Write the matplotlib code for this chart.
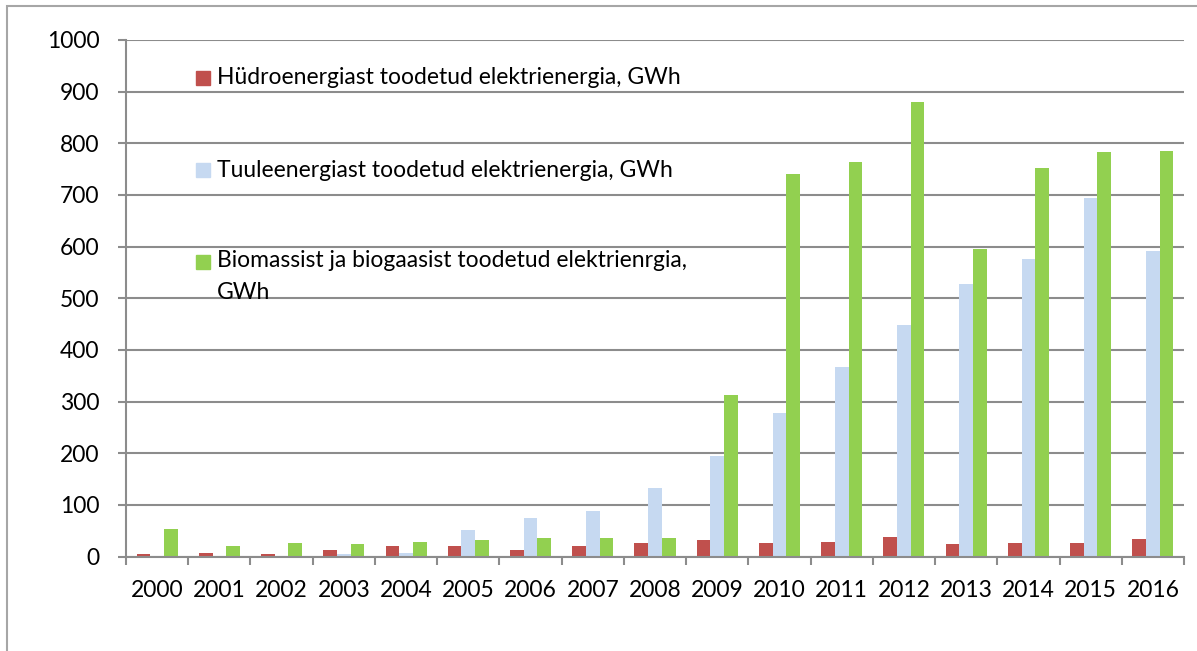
"""Renewable electricity production in Estonia, 2000-2016 (GWh)."""
import matplotlib

matplotlib.use("Agg")
import matplotlib.pyplot as plt
import numpy as np
from matplotlib.patches import Rectangle

years = [str(y) for y in range(2000, 2017)]
hydro = [4, 6, 4, 12, 21, 20, 12, 20, 27, 31, 26, 29, 37, 25, 26, 26, 33]
wind = [0, 0, 0, 5, 6, 52, 75, 89, 133, 194, 277, 367, 448, 528, 576, 694, 592]
biomass = [54, 20, 26, 25, 29, 31, 36, 35, 36, 313, 741, 763, 880, 596, 752, 783, 785]

labels = [
    "Hüdroenergiast toodetud elektrienergia, GWh",
    "Tuuleenergiast toodetud elektrienergia, GWh",
    "Biomassist ja biogaasist toodetud elektrienrgia,\nGWh",
]
colors = ["#C0504D", "#C6D9F1", "#92D050"]

plt.rcParams["font.family"] = ["Lato", "DejaVu Sans"]
fs = 16.5

W, H = 1197, 651
fig = plt.figure(figsize=(W / 100, H / 100), dpi=100)
ax = fig.add_axes([126 / W, 1 - 556.5 / H, (1184 - 126) / W, (556.5 - 40) / H])

grid_c = "#8C8C8C"
x = np.arange(len(years))
bw = 0.22
for off, vals, c in zip([-bw, 0, bw], [hydro, wind, biomass], colors):
    ax.bar(x + off, vals, width=bw, color=c, linewidth=0, zorder=3)

ax.set_xlim(-0.5, len(years) - 0.5)
ax.set_ylim(0, 1000)
ax.set_yticks(range(0, 1001, 100))
ax.yaxis.grid(True, color=grid_c, linewidth=1.5, zorder=0)
ax.tick_params(axis="y", length=6, width=1.5, color=grid_c, pad=13, labelsize=fs)

ax.set_xticks(np.arange(-0.5, len(years), 1.0))
ax.set_xticklabels([])
ax.set_xticks(x, minor=True)
ax.set_xticklabels(years, minor=True)
ax.tick_params(axis="x", which="major", length=6, width=1.5, color=grid_c)
ax.tick_params(axis="x", which="minor", length=0, pad=17, labelsize=fs)

for side in ["top", "right"]:
    ax.spines[side].set_visible(False)
for side in ["left", "bottom"]:
    ax.spines[side].set_color(grid_c)
    ax.spines[side].set_linewidth(1.5)
    ax.spines[side].set_zorder(4)

# legend drawn by hand: Excel puts the marker on the first text line
legend_y = [78, 170, 262]
for lab, c, ly in zip(labels, colors, legend_y):
    fig.patches.append(Rectangle((196 / W, 1 - (ly + 7) / H), 14 / W, 14 / H,
                                 transform=fig.transFigure, color=c, zorder=5))
    two_lines = "\n" in lab
    fig.text(217 / W, 1 - (ly - 12 if two_lines else ly) / H, lab, ha="left",
             va="top" if two_lines else "center",
             fontsize=fs, linespacing=1.65, zorder=5,
             transform=fig.transFigure)

# outer chart frame, cut off on the right and at the bottom
fig.patches.append(Rectangle((7 / W, -0.1), 1.2, 1 - 6 / H + 0.1,
                             transform=fig.transFigure, fill=False,
                             edgecolor="#A6A6A6", linewidth=1.5))

fig.savefig("out.png", dpi=100)
